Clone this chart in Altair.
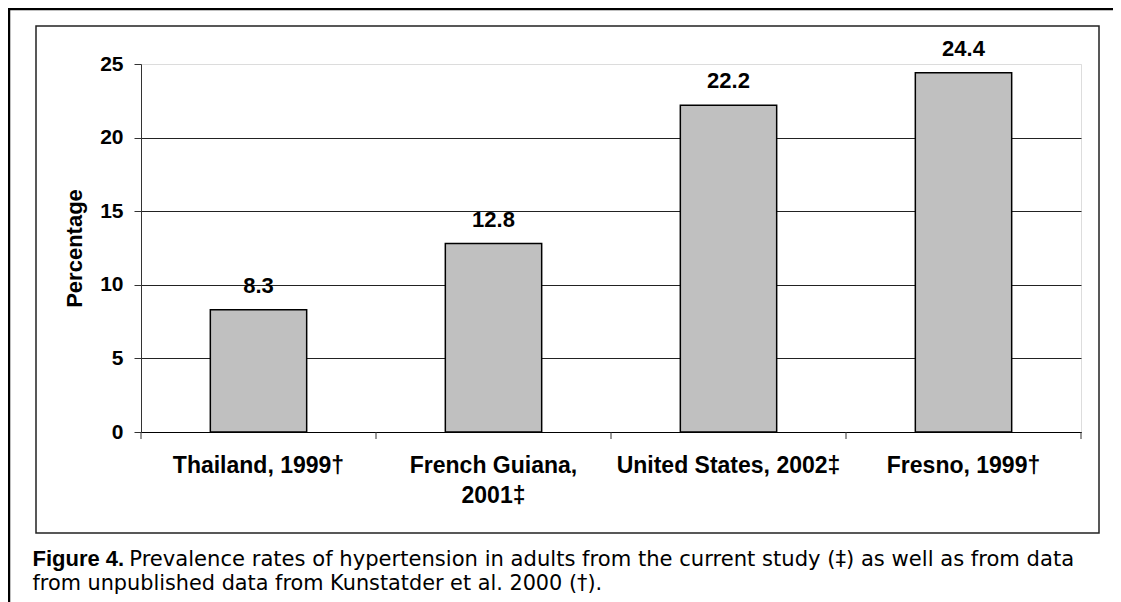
import altair as alt
import pandas as pd

# ---- data ----
categories = ["Thailand, 1999†", "French Guiana,\n2001‡", "United States, 2002‡", "Fresno, 1999†"]
values = [8.3, 12.8, 22.2, 24.4]
y_ticks = [0, 5, 10, 15, 20, 25]
y_title = "Percentage"
caption_bold = "Figure 4."
caption_line1 = "Prevalence rates of hypertension in adults from the current study (‡) as well as from data"
caption_line2 = "from unpublished data from Kunstatder et al. 2000 (†)."

FONT = "Liberation Sans"
CAP_FONT = "DejaVu Sans"

W, H = 940, 368
PAD = {"left": 133, "top": 56, "right": 32, "bottom": 170}
SVG_W = PAD["left"] + W + PAD["right"]
SVG_H = PAD["top"] + H + PAD["bottom"]
P_INNER = 0.59
STEP = W / len(categories)
GAP = P_INNER * STEP / 2  # distance from step start to band start

df = pd.DataFrame({"category": categories, "value": values})
one = alt.Data(values=[{"k": 0}])

x_scale = alt.Scale(paddingInner=P_INNER, paddingOuter=P_INNER / 2)

x_enc = alt.X(
    "category:N",
    sort=categories,
    scale=x_scale,
    axis=alt.Axis(
        title=None,
        labelAngle=0,
        labelFont=FONT,
        labelFontSize=23,
        labelFontWeight="bold",
        labelColor="#000000",
        labelExpr="split(datum.label, '\\n')",
        labelLineHeight=30,
        labelBaseline="top",
        labelPadding=22,
        labelLimit=400,
        ticks=False,
        domainColor="#000000",
        domainWidth=1,
        grid=False,
    ),
)

y_enc = alt.Y(
    "value:Q",
    scale=alt.Scale(domain=[0, 25], nice=False, zero=True),
    axis=alt.Axis(
        values=y_ticks,
        title=y_title,
        titleFont=FONT,
        titleFontSize=22,
        titleFontWeight="bold",
        titleColor="#000000",
        titleAngle=270,
        titleX=-67,
        titleY=H / 2,
        titleAlign="center",
        titleBaseline="middle",
        labelFont=FONT,
        labelFontSize=21,
        labelFontWeight="bold",
        labelColor="#000000",
        labelPadding=11,
        tickSize=7,
        tickColor="#333333",
        domainColor="#333333",
        grid=True,
        gridColor={"condition": {"test": "datum.value === 25", "value": "#dcdcdc"}, "value": "#222222"},
        gridWidth=1,
    ),
)

base = alt.Chart(df)

bars = base.mark_bar(fill="#c0c0c0", stroke="#000000", strokeWidth=1.5).encode(x=x_enc, y=y_enc)

labels = base.mark_text(
    dy=-17, baseline="alphabetic", align="center", font=FONT, fontSize=22, fontWeight="bold", color="#000000"
).encode(x=alt.X("category:N", sort=categories), y="value:Q", text=alt.Text("value:Q", format=".1f"))

# category-boundary ticks on the x axis
x_ticks = base.mark_rule(stroke="#333333", strokeWidth=1, xOffset=-GAP).encode(
    x=alt.X("category:N", sort=categories, bandPosition=0),
    y=alt.value(H),
    y2=alt.value(H + 7),
)
x_tick_end = alt.Chart(one).mark_rule(stroke="#333333", strokeWidth=1).encode(
    x=alt.value(W), y=alt.value(H), y2=alt.value(H + 7)
)

inner_frame = alt.Chart(one).mark_rect(fillOpacity=0, stroke="#222222", strokeWidth=1.5).encode(
    x=alt.value(-105), x2=alt.value(958), y=alt.value(-38), y2=alt.value(469)
)

outer_top = alt.Chart(one).mark_rule(stroke="#000000", strokeWidth=2.5).encode(
    x=alt.value(-PAD["left"]), x2=alt.value(SVG_W - PAD["left"]), y=alt.value(-PAD["top"] + 1)
)
outer_left = alt.Chart(one).mark_rule(stroke="#000000", strokeWidth=2.5).encode(
    x=alt.value(-PAD["left"] + 1), y=alt.value(-PAD["top"] + 1), y2=alt.value(SVG_H - PAD["top"])
)

cap_b = alt.Chart(one).mark_text(
    align="left", baseline="alphabetic", font=FONT, fontSize=22, fontWeight="bold", color="#000000"
).encode(x=alt.value(-108.5), y=alt.value(502), text=alt.value(caption_bold))

cap_1 = alt.Chart(one).mark_text(
    align="left", baseline="alphabetic", font=CAP_FONT, fontSize=21.1, color="#000000"
).encode(x=alt.value(-11.7), y=alt.value(502), text=alt.value(caption_line1))

cap_2 = alt.Chart(one).mark_text(
    align="left", baseline="alphabetic", font=CAP_FONT, fontSize=20.8, color="#000000"
).encode(x=alt.value(-108.5), y=alt.value(526), text=alt.value(caption_line2))

chart = (
    alt.layer(bars, labels, x_ticks, x_tick_end, inner_frame, outer_top, outer_left, cap_b, cap_1, cap_2)
    .properties(width=W, height=H, padding=PAD, autosize=alt.AutoSizeParams(type="none"))
    .configure_view(strokeWidth=0)
    .configure(background="#ffffff")
)

chart.save("out.html", embed_options={"renderer": "svg", "actions": False})
